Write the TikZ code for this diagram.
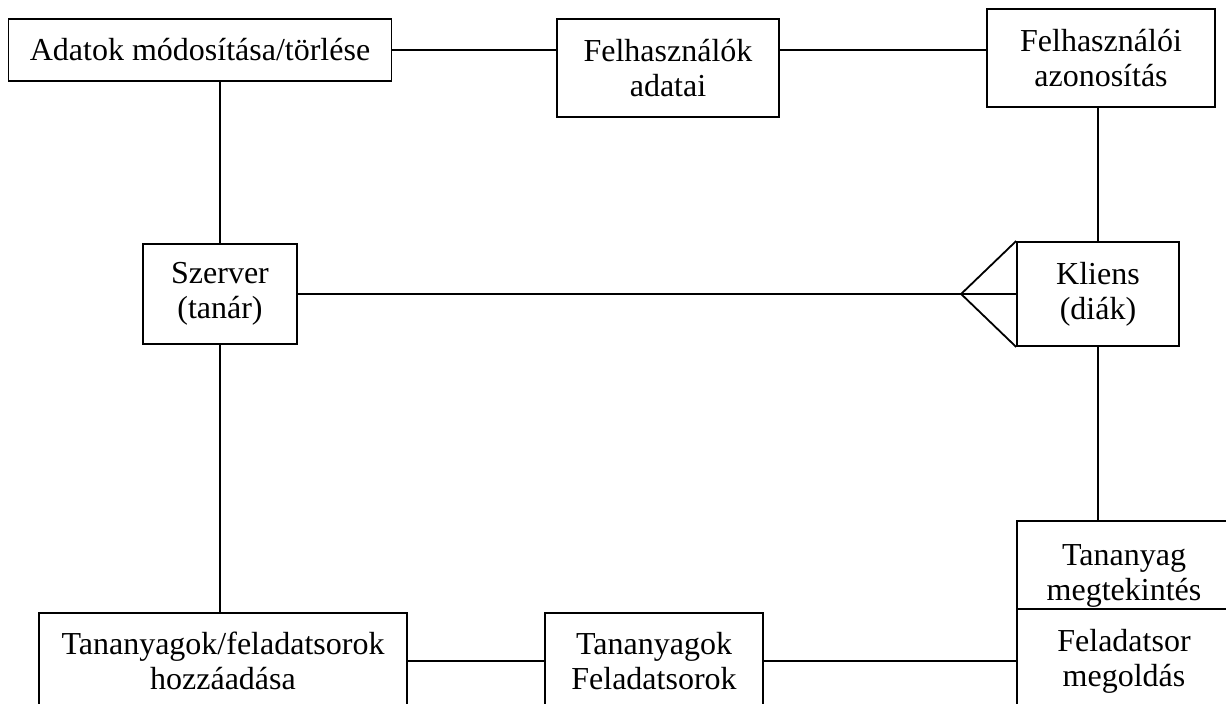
\documentclass[tikz,border=0pt]{standalone}
\usepackage{fontspec}
\setmainfont{Liberation Serif}
\usetikzlibrary{positioning}

\begin{document}
\begin{tikzpicture}[
    x=0.5pt, y=-0.5pt,
    every node/.style={font=\fontsize{16}{17.5}\selectfont},
    box/.style={rectangle, draw, fill=white, align=center, inner sep=0pt, line width=0.9pt},
    link/.style={line width=0.9pt}
]
    \clip (0,0) rectangle (1226,704);

    % Top row
    \node[box, minimum width=191.5pt, minimum height=31pt] (edit) at (200,50) {Adatok módosítása/törlése};
    \node[box, minimum width=111pt, minimum height=49pt] (users) at (668,68) {Felhasználók\\adatai};
    \node[box, minimum width=114pt, minimum height=49pt] (login) at (1101,58) {Felhasználói\\azonosítás};

    % Middle row
    \node[box, minimum width=77pt, minimum height=50pt] (server) at (220,294) {Szerver\\(tanár)};
    \node[box, minimum width=81pt, minimum height=52pt] (client) at (1098,294) {Kliens\\(diák)};

    % Bottom row
    \node[box, minimum width=107pt, minimum height=55pt] (view) at (1124,576) {Tananyag\\megtekintés};
    \node[box, minimum width=107pt, minimum height=52pt] (solve) at (1124,661) {Feladatsor\\megoldás};
    \node[box, minimum width=184pt, minimum height=48pt] (upload) at (223,661) {Tananyagok/feladatsorok\\hozzáadása};
    \node[box, minimum width=109pt, minimum height=48pt] (material) at (654,661) {Tananyagok\\Feladatsorok};

    % Crow's foot
    \coordinate (foot) at ([xshift=-27.5pt]client.west);

    % Edges
    \draw[link] (edit.east) -- (edit.east -| users.west);
    \draw[link] (edit.east -| users.east) -- (edit.east -| login.west);
    \draw[link] (server.north) -- (server.north |- edit.south);
    \draw[link] (client.north) -- (client.north |- login.south);
    \draw[link] (server.east) -- (client.west);
    \draw[link] (client.north west) -- (foot) -- (client.south west);
    \draw[link] (server.south) -- (server.south |- upload.north);
    \draw[link] (client.south) -- (client.south |- view.north);
    \draw[link] (upload.east) -- (material.west);
    \draw[link] (material.east) -- (material.east -| solve.west);
\end{tikzpicture}
\end{document}
